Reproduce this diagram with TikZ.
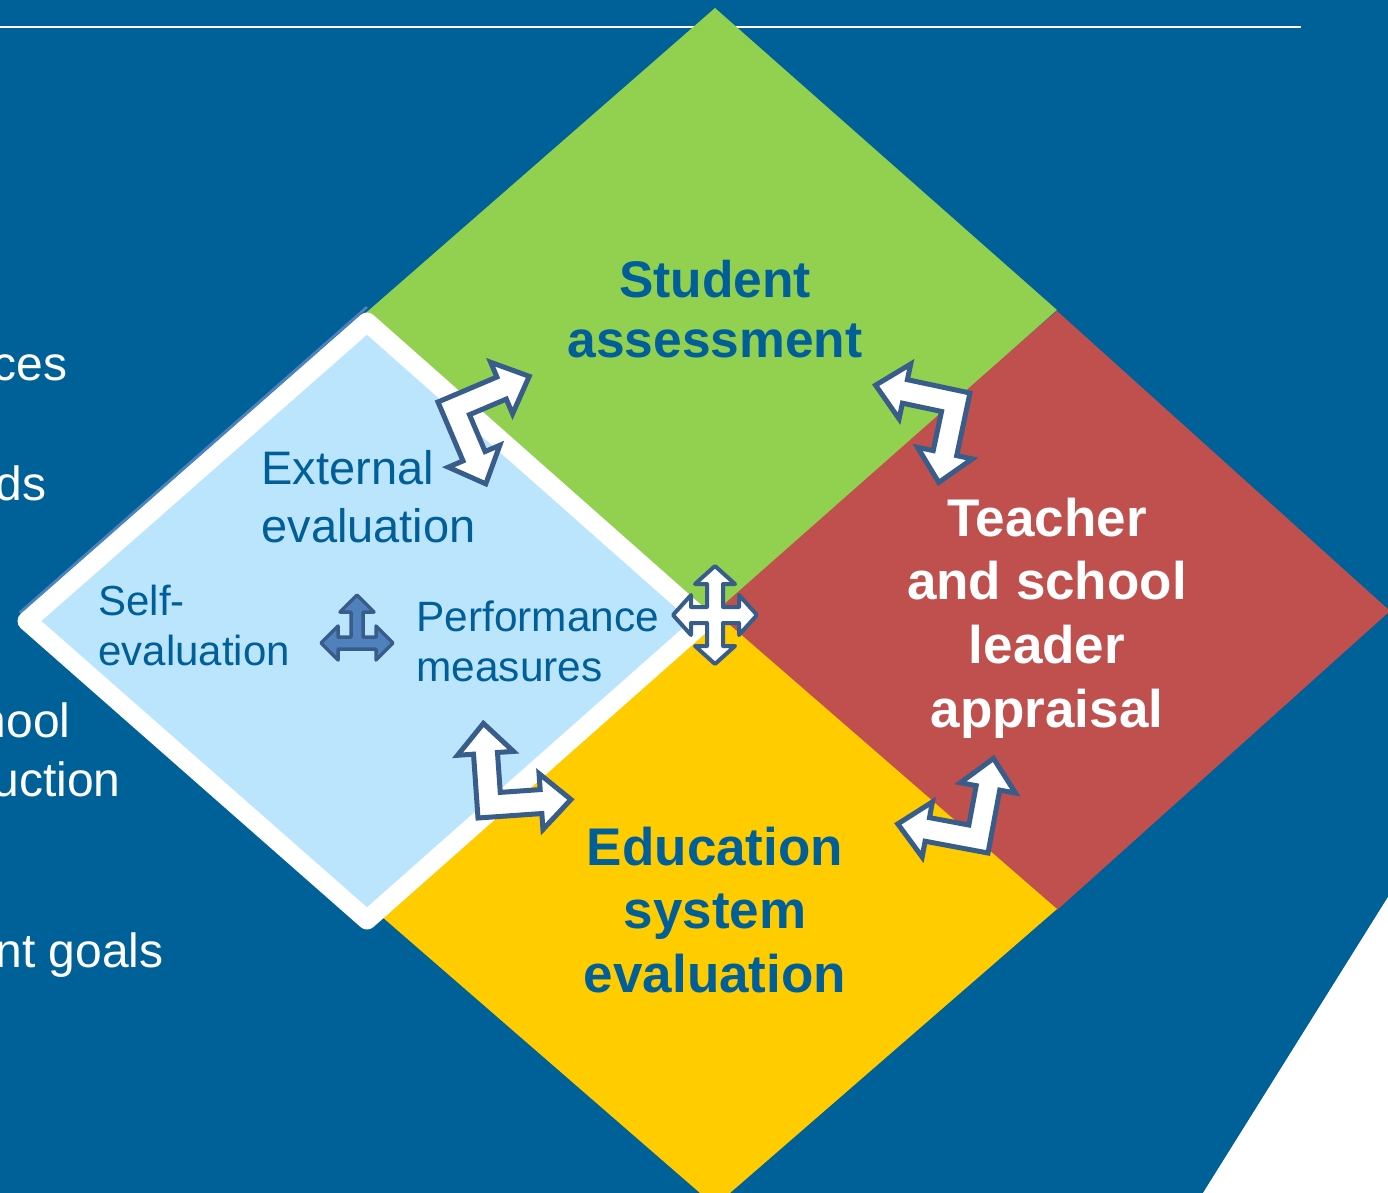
\documentclass[tikz,border=0pt]{standalone}
\usepackage{fontspec}
\setmainfont{Liberation Sans}

\definecolor{slideblue}{RGB}{0,97,153}
\definecolor{leafgreen}{RGB}{146,208,80}
\definecolor{brickred}{RGB}{192,80,77}
\definecolor{sunyellow}{RGB}{255,204,0}
\definecolor{paleblue}{RGB}{187,229,252}
\definecolor{arrowedge}{RGB}{56,93,138}
\definecolor{arrowfill}{RGB}{79,129,189}
\definecolor{titleblue}{RGB}{0,94,152}

\tikzset{
  elbowline/.style={draw=arrowedge, fill=white, line width=2.5pt, line join=miter},
  crossline/.style={draw=arrowedge, fill=white, line width=2pt, line join=round},
  triline/.style={draw=arrowedge, fill=arrowfill, line width=1.75pt, line join=round},
  pics/elbow/.style={code={
    \draw[elbowline] (0,0) -- (64,0) -- (64,-16) -- (94,12) -- (64,40) -- (64,24) -- (24,24) -- (24,64) -- (40,64) -- (12,94) -- (-16,64) -- (0,64) -- cycle;
  }},
  boxtitle/.style={font=\bfseries\fontsize{26.5}{31.8}\selectfont, align=center, inner sep=0pt},
  subtext/.style={text=titleblue, align=left, inner sep=0pt, anchor=west},
  sidetext/.style={text=white, font=\fontsize{24}{29.5}\selectfont, inner sep=0pt, anchor=base east}
}

\begin{document}
\begin{tikzpicture}[x=0.5pt,y=0.5pt,yscale=-1]
\useasboundingbox (0,0) rectangle (1388,1193);

%Shape: Rectangle
\fill[slideblue] (0,0) rectangle (1388,1193);
%Shape: Polygon
\fill[white] (1388,897) -- (1203,1193) -- (1388,1193) -- cycle;
%Straight Lines
\draw[white, line width=0.8pt] (0,27) -- (1301,27);

%Shape: Diamond
\fill[brickred] (1057,311) -- (1390,611) -- (1057,910) -- (705,612) -- cycle;
%Shape: Diamond
\fill[leafgreen] (715,8) -- (1057,310) -- (715,612) -- (705,628) -- (360,318) -- cycle;
%Shape: Diamond
\fill[sunyellow] (715,612) -- (1057,909) -- (715,1206) -- (373,909) -- cycle;

%Straight Lines
\draw[arrowfill, line width=1.3pt] (19.7,612.7) -- (367,307);
%Shape: Diamond
\draw[white, line width=9.5pt, line join=round, fill=paleblue] (367,322) -- (705,621) -- (367,920) -- (27,621) -- cycle;

\node[sidetext] (ces) at (68,380) {ces};
\node[sidetext] (ds) at (47,500) {ds};
\node[sidetext] (hool) at (71,737) {hool};
\node[sidetext] (uction) at (121,796) {uction};
\node[sidetext] (goals) at (164,967) {nt goals};

\node[boxtitle, text=titleblue, font=\bfseries\fontsize{25.75}{30}\selectfont] (student) at (715,309) {Student\\assessment};
\node[boxtitle, text=white] (teacher) at (1047,618) {Teacher\\and school\\leader\\appraisal};
\node[boxtitle, text=titleblue] (education) at (715,910) {Education\\system\\evaluation};

\node[subtext, font=\fontsize{23.5}{29}\selectfont] (external) at (261,497) {External\\evaluation};
\node[subtext, font=\fontsize{21}{25}\selectfont] (self) at (98,625) {Self-\\evaluation};
\node[subtext, font=\fontsize{21.2}{25}\selectfont] (performance) at (416,641) {Performance\\measures};

%Shape: Left-Up Arrow
\pic[transform shape, rotate=-23] at (438,402) {elbow};
\pic[transform shape, rotate=102] at (970,393) {elbow};
\pic[transform shape, rotate=-94] at (478,818) {elbow};
\pic[transform shape, rotate=190.6] at (988,853) {elbow};

%Shape: Quad Arrow
\draw[crossline, shift={(715,615)}] (-42,0) -- (-24,-20) -- (-24,-8) -- (-8,-8) -- (-8,-31) -- (-20,-31) -- (0,-49) -- (20,-31) -- (8,-31) -- (8,-8) -- (24,-8) -- (24,-20) -- (42,0) -- (24,20) -- (24,8) -- (8,8) -- (8,31) -- (20,31) -- (0,49) -- (-20,31) -- (-8,31) -- (-8,8) -- (-24,8) -- (-24,20) -- cycle;

%Shape: Left-Right-Up Arrow
\draw[triline, shift={(357,643)}] (-36,0) -- (-19,-17) -- (-19,-6) -- (-6,-6) -- (-6,-31) -- (-17,-31) -- (0,-48) -- (17,-31) -- (6,-31) -- (6,-6) -- (19,-6) -- (19,-17) -- (36,0) -- (19,17) -- (19,6) -- (-19,6) -- (-19,17) -- cycle;

\end{tikzpicture}
\end{document}
